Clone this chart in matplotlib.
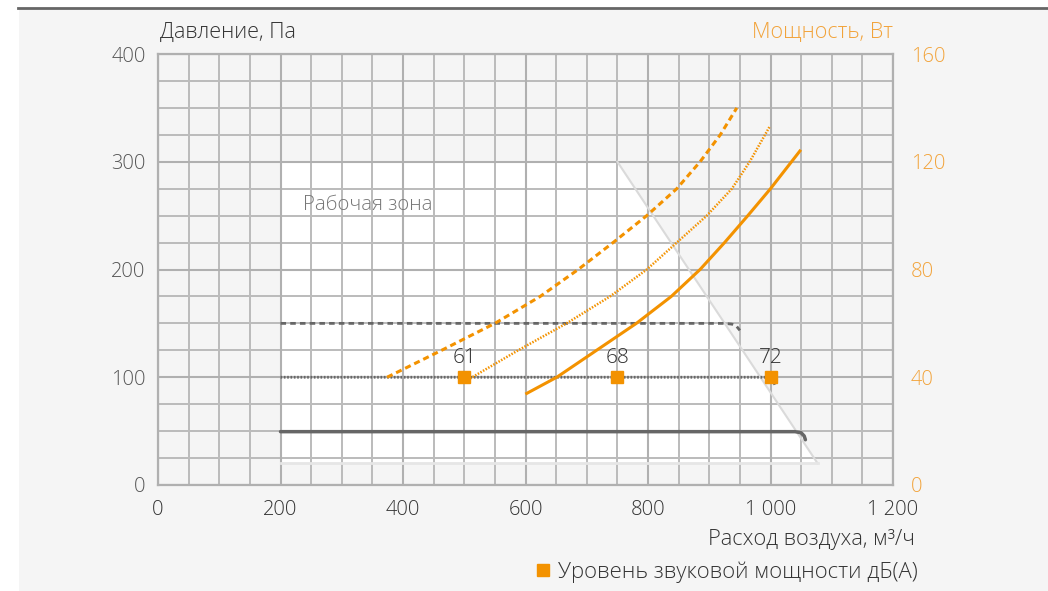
import matplotlib.pyplot as plt
from matplotlib.patches import Polygon, Rectangle
from matplotlib.lines import Line2D

# ── Palette ────────────────────────────────────────────────────────────────
BG      = "#f5f5f5"
GRID    = "#bcbcbc"
GRID_MJ = "#b0b0b0"
DARK    = "#333333"
GREY    = "#666666"
ORANGE  = "#f39200"
ORANGE_T = "#f2a33a"

plt.rcParams["font.family"] = ["Open Sans", "DejaVu Sans"]
plt.rcParams["font.weight"] = "light"

# ── Data ───────────────────────────────────────────────────────────────────
# working zone outline (airflow m3/h, pressure Pa)
zone_x = [200, 200, 750, 1077]
zone_y = [20, 300, 300, 20]

# pressure curves (left axis)
p150_x = [200, 925, 937, 945, 950]
p150_y = [150, 150, 149.3, 147, 143.5]
p100_x = [200, 998, 1004, 1008]
p100_y = [100, 100, 97, 92]
p50_x = [200, 1040, 1050, 1055, 1057]
p50_y = [49.5, 49.5, 48.5, 45.5, 42]

# power curves (right axis, W)
pw_dash_x = [374, 463, 550, 624, 686, 743, 798, 847, 885, 918, 945]
pw_dash_y = [40, 50, 60, 70, 80, 90, 100, 110, 120, 130, 140]
pw_dot_x = [501, 588, 667, 738, 798, 847, 896, 937, 966, 991, 999]
pw_dot_y = [38.4, 50, 60, 70, 80, 90, 100, 110, 120, 130, 133.2]
pw_sol_x = [602, 651, 716, 781, 838, 885, 925, 963, 1000, 1048]
pw_sol_y = [34, 40, 50, 60, 70, 80, 90, 100, 110, 124]

# sound power level markers
snd_x = [500, 750, 1000]
snd_y = [100, 100, 100]
snd_lbl = ["61", "68", "72"]

x_ticks = [0, 200, 400, 600, 800, 1000, 1200]
x_tick_lbl = ["0", "200", "400", "600", "800", "1 000", "1 200"]
y_ticks = [0, 100, 200, 300, 400]
y2_ticks = [0, 40, 80, 120, 160]
x_grid = list(range(0, 1201, 50))
y_grid = list(range(0, 401, 25))

# ── Figure ─────────────────────────────────────────────────────────────────
fig = plt.figure(figsize=(10.48, 5.91), dpi=100, facecolor="white")
fig.patches.append(Rectangle((19 / 1048, 0), 1, 1 - 9 / 591, transform=fig.transFigure,
                             facecolor=BG, edgecolor="none", zorder=-10))
fig.add_artist(Line2D([18 / 1048, 1], [1 - 8 / 591] * 2, transform=fig.transFigure,
                      color=GREY, lw=2))

ax = fig.add_axes([158 / 1048, 1 - 485 / 591, 735 / 1048, 431 / 591])
ax.set_facecolor(BG)
ax.set_xlim(0, 1200)
ax.set_ylim(0, 400)
ax.set_xticks(x_ticks)
ax.set_xticklabels(x_tick_lbl)
ax.set_yticks(y_ticks)
for s in ax.spines.values():
    s.set_color("#b0b0b0")
    s.set_linewidth(1.6)
ax.tick_params(which="both", length=0)
ax.tick_params(axis="x", pad=11, labelsize=14.5, labelcolor=DARK)
ax.tick_params(axis="y", pad=9, labelsize=14.5, labelcolor="#555555")

# working zone (white) under the grid
ax.add_patch(Polygon(list(zip(zone_x, zone_y)), closed=True, facecolor="white",
                     edgecolor="none", zorder=0.1))

# grid lines drawn explicitly on top of the zone
ax.vlines([v for v in x_grid if v % 200], 0, 400, color=GRID, lw=1.44, zorder=0.5, snap=True)
ax.vlines([v for v in x_grid if v % 200 == 0], 0, 400, color=GRID_MJ, lw=1.5, zorder=0.6,
          snap=True)
ax.hlines([v for v in y_grid if v % 100], 0, 1200, color=GRID, lw=1.44, zorder=0.5, snap=True)
ax.hlines([v for v in y_grid if v % 100 == 0], 0, 1200, color=GRID_MJ, lw=1.5, zorder=0.6,
          snap=True)

ax.plot(zone_x[2:], zone_y[2:], color="#dadada", lw=1.5, zorder=1)
ax.plot([zone_x[0], zone_x[3]], [zone_y[0], zone_y[3]], color="#e6e6e6", lw=2, zorder=1)
ax.text(237, 260, "Рабочая зона", fontsize=14.7, color="#777777", va="center", ha="left")

# pressure lines
ax.plot(p150_x, p150_y, color=GREY, lw=2, ls=(0, (2, 1.5)))
ax.plot(p100_x, p100_y, color=GREY, lw=2, ls=(0, (0.6, 0.6)))
ax.plot(p50_x, p50_y, color=GREY, lw=2.5, solid_capstyle="round")

# power axis
ax2 = ax.twinx()
ax2.set_ylim(0, 160)
ax2.set_yticks(y2_ticks)
ax2.tick_params(length=0, pad=13, labelsize=14.5, labelcolor=ORANGE_T)
for s in ax2.spines.values():
    s.set_visible(False)

ax2.plot(pw_dash_x, pw_dash_y, color=ORANGE, lw=2.2, ls=(0, (2, 1.3)))
ax2.plot(pw_dot_x, pw_dot_y, color=ORANGE, lw=1.8, ls=(0, (0.6, 0.6)))
ax2.plot(pw_sol_x, pw_sol_y, color=ORANGE, lw=2.2)

ax2.plot(snd_x, snd_y, "s", color=ORANGE, ms=8, transform=ax.transData, zorder=5)
for x, y, t in zip(snd_x, snd_y, snd_lbl):
    ax2.annotate(t, (x, y), xycoords=ax.transData, xytext=(0, 7), textcoords="offset points",
                 ha="center", va="bottom", fontsize=15, color=DARK, zorder=6)

# titles / labels
fig.text(160 / 1048, 1 - 32 / 591, "Давление, Па", fontsize=15.5, color=DARK, va="center")
fig.text(893 / 1048, 1 - 32 / 591, "Мощность, Вт", fontsize=15.5, color=ORANGE_T,
         va="center", ha="right")
fig.text(915 / 1048, 1 - 540 / 591, "Расход воздуха, м³/ч", fontsize=15.7, color=DARK,
         va="center", ha="right")

handle = Line2D([], [], marker="s", ls="none", color=ORANGE, ms=8)
fig.legend([handle], ["Уровень звуковой мощности дБ(А)"], loc="center right",
           bbox_to_anchor=(929 / 1048, 1 - 572 / 591), frameon=False, fontsize=15.9,
           handlelength=0.6, handletextpad=0.4, borderpad=0, labelcolor=DARK)

fig.savefig("out.png", dpi=100, facecolor="white")
